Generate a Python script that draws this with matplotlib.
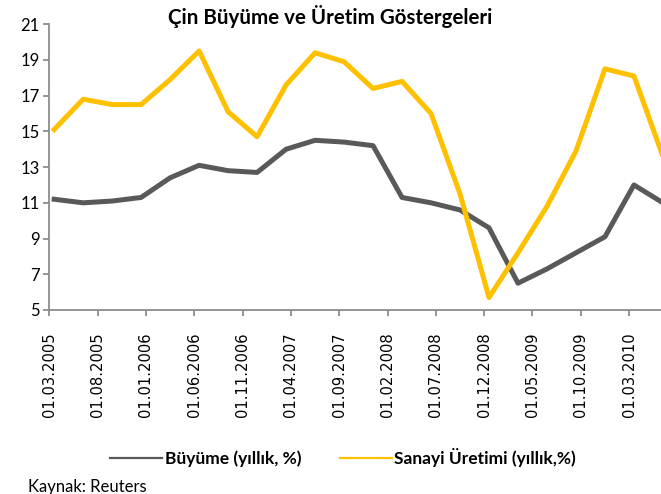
import matplotlib
matplotlib.use("Agg")
import matplotlib.pyplot as plt
import matplotlib.transforms as mtransforms
from matplotlib.lines import Line2D
import pandas as pd

# quarterly data, Mar 2005 - Jun 2010
quarters = pd.date_range("2005-03-01", periods=22, freq="3MS")
buyume = [11.2, 11.0, 11.1, 11.3, 12.4, 13.1, 12.8, 12.7, 14.0, 14.5, 14.4,
          14.2, 11.3, 11.0, 10.6, 9.6, 6.5, 7.3, 8.2, 9.1, 12.0, 11.0]
sanayi = [15.1, 16.8, 16.5, 16.5, 17.9, 19.5, 16.1, 14.7, 17.6, 19.4, 18.9,
          17.4, 17.8, 16.0, 11.5, 5.7, 8.2, 10.8, 13.9, 18.5, 18.1, 13.6]
tick_dates = pd.date_range("2005-03-01", "2010-03-01", freq="5MS")

start = quarters[0]


def month_pos(d):
    return (d.year - start.year) * 12 + (d.month - start.month)


x = [month_pos(d) + 0.5 for d in quarters]
ticks = [month_pos(d) for d in tick_dates]
tick_labels = [d.strftime("%d.%m.%Y") for d in tick_dates]

grey = "#595959"
gold = "#FFC000"
axis_col = "#8c8c8c"

fig = plt.figure(figsize=(6.61, 4.94), dpi=100)
ax = fig.add_axes([0.0746, 0.3725, 1 - 0.0746, 0.951 - 0.3725])

ax.plot(x, buyume, color=grey, lw=3.6, solid_joinstyle="round")
ax.plot(x, sanayi, color=gold, lw=3.6, solid_joinstyle="round")

ax.set_xlim(0, 63.3)
ax.set_ylim(5, 21)
ax.set_yticks(range(5, 22, 2))
ax.set_xticks(ticks)
ax.set_xticklabels(tick_labels, rotation=90, fontsize=10.6, family="DejaVu Sans")

# nudge rotated labels a little to the right like the original
shift = mtransforms.ScaledTranslation(2 / 100, 0, fig.dpi_scale_trans)
for lab in ax.get_xticklabels():
    lab.set_transform(lab.get_transform() + shift)

for lab in ax.get_yticklabels():
    lab.set_family("Lato")
    lab.set_fontsize(12)

for s in ["top", "right"]:
    ax.spines[s].set_visible(False)
for s in ["left", "bottom"]:
    ax.spines[s].set_color(axis_col)
    ax.spines[s].set_linewidth(1.3)
ax.tick_params(axis="both", color=axis_col, width=1.3, length=4, pad=3)
ax.tick_params(axis="x", pad=12)

fig.text(0.5, 0.966, "Çin Büyüme ve Üretim Göstergeleri", ha="center", va="center",
         family="Lato", fontweight="bold", fontsize=14.8)

handles = [Line2D([], [], color=grey, lw=1.6), Line2D([], [], color=gold, lw=1.6)]
leg = fig.legend(handles, ["Büyüme (yıllık, %)", "Sanayi Üretimi (yıllık,%)"],
                 loc="center", bbox_to_anchor=(0.519, 0.073), ncol=2, frameon=False,
                 handlelength=3.0, handletextpad=0.15, columnspacing=2.2,
                 prop={"family": "Lato", "weight": "bold", "size": 12.5})

fig.text(28 / 661, 1 - 487 / 494, "Kaynak: Reuters", ha="left", va="center",
         family="Lato", fontsize=12)

fig.savefig("out.png", dpi=100)
